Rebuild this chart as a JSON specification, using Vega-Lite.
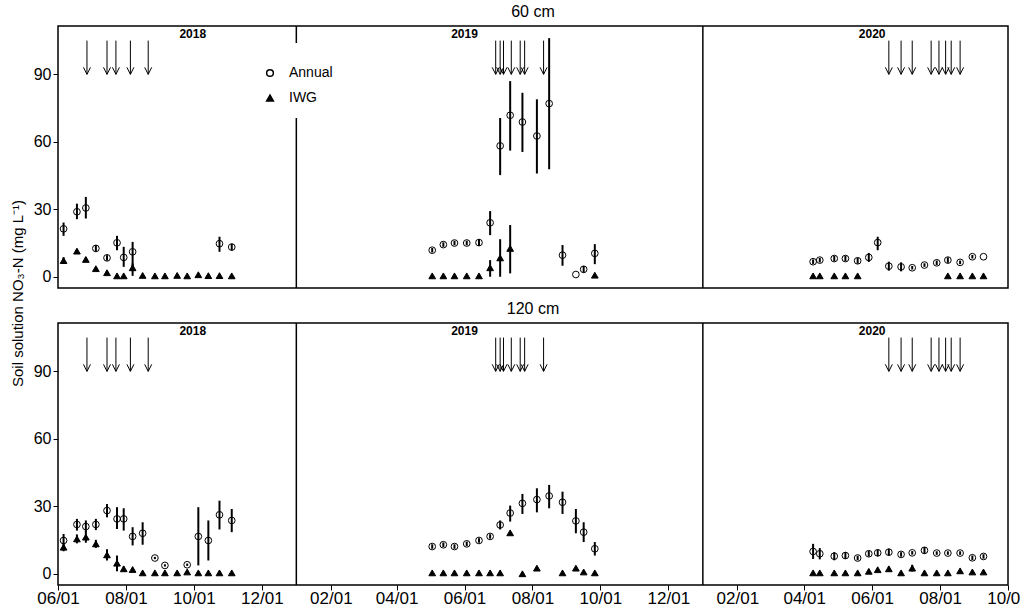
{
  "$schema": "https://vega.github.io/schema/vega-lite/v6.json",
  "padding": {"left": 9, "top": 3, "right": 0, "bottom": 0},
  "bounds": "flush",
  "spacing": 35,
  "datasets": {
    "obs": [
      {"depth": "60 cm", "trt": "Annual", "date": "2018-06-06", "mean": 21.3, "lo": 18.2, "hi": 24.1},
      {"depth": "60 cm", "trt": "Annual", "date": "2018-06-18", "mean": 28.9, "lo": 25.6, "hi": 32.5},
      {"depth": "60 cm", "trt": "Annual", "date": "2018-06-26", "mean": 30.6, "lo": 25.9, "hi": 35.5},
      {"depth": "60 cm", "trt": "Annual", "date": "2018-07-05", "mean": 12.6, "lo": 11.1, "hi": 14.1},
      {"depth": "60 cm", "trt": "Annual", "date": "2018-07-15", "mean": 8.4, "lo": 7.2, "hi": 9.6},
      {"depth": "60 cm", "trt": "Annual", "date": "2018-07-24", "mean": 15.1, "lo": 11.8, "hi": 18.2},
      {"depth": "60 cm", "trt": "Annual", "date": "2018-07-30", "mean": 8.6, "lo": 4.4, "hi": 13.3},
      {"depth": "60 cm", "trt": "Annual", "date": "2018-08-07", "mean": 11.1, "lo": 4.4, "hi": 15.5},
      {"depth": "60 cm", "trt": "Annual", "date": "2018-10-24", "mean": 14.7, "lo": 11.1, "hi": 17.8},
      {"depth": "60 cm", "trt": "Annual", "date": "2018-11-04", "mean": 13.2, "lo": 11.7, "hi": 14.7},
      {"depth": "60 cm", "trt": "Annual", "date": "2019-05-03", "mean": 11.8, "lo": 10.8, "hi": 12.8},
      {"depth": "60 cm", "trt": "Annual", "date": "2019-05-13", "mean": 14.3, "lo": 13.3, "hi": 15.3},
      {"depth": "60 cm", "trt": "Annual", "date": "2019-05-23", "mean": 15.0, "lo": 14.0, "hi": 16.0},
      {"depth": "60 cm", "trt": "Annual", "date": "2019-06-03", "mean": 15.0, "lo": 14.0, "hi": 16.0},
      {"depth": "60 cm", "trt": "Annual", "date": "2019-06-14", "mean": 15.2, "lo": 13.7, "hi": 16.7},
      {"depth": "60 cm", "trt": "Annual", "date": "2019-06-24", "mean": 24.0, "lo": 18.5, "hi": 29.2},
      {"depth": "60 cm", "trt": "Annual", "date": "2019-07-03", "mean": 58.2, "lo": 45.2, "hi": 70.6},
      {"depth": "60 cm", "trt": "Annual", "date": "2019-07-12", "mean": 71.8, "lo": 56.1, "hi": 87.0},
      {"depth": "60 cm", "trt": "Annual", "date": "2019-07-23", "mean": 68.8, "lo": 55.5, "hi": 81.8},
      {"depth": "60 cm", "trt": "Annual", "date": "2019-08-05", "mean": 62.6, "lo": 45.9, "hi": 78.9},
      {"depth": "60 cm", "trt": "Annual", "date": "2019-08-16", "mean": 77.0, "lo": 47.8, "hi": 106.1},
      {"depth": "60 cm", "trt": "Annual", "date": "2019-08-28", "mean": 9.6, "lo": 4.9, "hi": 14.1},
      {"depth": "60 cm", "trt": "Annual", "date": "2019-09-09", "mean": 1.0, "lo": 1.0, "hi": 1.0},
      {"depth": "60 cm", "trt": "Annual", "date": "2019-09-16", "mean": 3.3, "lo": 1.8, "hi": 4.8},
      {"depth": "60 cm", "trt": "Annual", "date": "2019-09-26", "mean": 10.4, "lo": 5.6, "hi": 14.5},
      {"depth": "60 cm", "trt": "Annual", "date": "2020-04-09", "mean": 6.7, "lo": 5.7, "hi": 7.7},
      {"depth": "60 cm", "trt": "Annual", "date": "2020-04-15", "mean": 7.4, "lo": 6.4, "hi": 8.4},
      {"depth": "60 cm", "trt": "Annual", "date": "2020-04-28", "mean": 8.1, "lo": 6.9, "hi": 9.3},
      {"depth": "60 cm", "trt": "Annual", "date": "2020-05-08", "mean": 8.1, "lo": 6.9, "hi": 9.3},
      {"depth": "60 cm", "trt": "Annual", "date": "2020-05-19", "mean": 7.1, "lo": 5.8, "hi": 8.4},
      {"depth": "60 cm", "trt": "Annual", "date": "2020-05-29", "mean": 8.6, "lo": 6.6, "hi": 10.6},
      {"depth": "60 cm", "trt": "Annual", "date": "2020-06-06", "mean": 15.2, "lo": 11.8, "hi": 17.8},
      {"depth": "60 cm", "trt": "Annual", "date": "2020-06-16", "mean": 4.7, "lo": 2.7, "hi": 6.7},
      {"depth": "60 cm", "trt": "Annual", "date": "2020-06-27", "mean": 4.4, "lo": 2.4, "hi": 6.4},
      {"depth": "60 cm", "trt": "Annual", "date": "2020-07-07", "mean": 4.0, "lo": 3.2, "hi": 4.8},
      {"depth": "60 cm", "trt": "Annual", "date": "2020-07-18", "mean": 5.2, "lo": 4.4, "hi": 6.0},
      {"depth": "60 cm", "trt": "Annual", "date": "2020-07-29", "mean": 6.2, "lo": 5.2, "hi": 7.2},
      {"depth": "60 cm", "trt": "Annual", "date": "2020-08-08", "mean": 7.4, "lo": 6.2, "hi": 8.6},
      {"depth": "60 cm", "trt": "Annual", "date": "2020-08-19", "mean": 6.4, "lo": 5.6, "hi": 7.2},
      {"depth": "60 cm", "trt": "Annual", "date": "2020-08-30", "mean": 8.9, "lo": 8.1, "hi": 9.7},
      {"depth": "60 cm", "trt": "Annual", "date": "2020-09-09", "mean": 8.9, "lo": 8.9, "hi": 8.9},
      {"depth": "60 cm", "trt": "IWG", "date": "2018-06-06", "mean": 7.2, "lo": 5.7, "hi": 8.7},
      {"depth": "60 cm", "trt": "IWG", "date": "2018-06-18", "mean": 11.4, "lo": 10.4, "hi": 12.4},
      {"depth": "60 cm", "trt": "IWG", "date": "2018-06-26", "mean": 7.7, "lo": 6.7, "hi": 8.7},
      {"depth": "60 cm", "trt": "IWG", "date": "2018-07-05", "mean": 3.6, "lo": 3.0, "hi": 4.2},
      {"depth": "60 cm", "trt": "IWG", "date": "2018-07-15", "mean": 1.8, "lo": 1.3, "hi": 2.3},
      {"depth": "60 cm", "trt": "IWG", "date": "2018-07-24", "mean": 0.4, "lo": 0.4, "hi": 0.4},
      {"depth": "60 cm", "trt": "IWG", "date": "2018-07-30", "mean": 0.4, "lo": 0.4, "hi": 0.4},
      {"depth": "60 cm", "trt": "IWG", "date": "2018-08-07", "mean": 4.0, "lo": 0.4, "hi": 5.9},
      {"depth": "60 cm", "trt": "IWG", "date": "2018-08-16", "mean": 0.6, "lo": 0.6, "hi": 0.6},
      {"depth": "60 cm", "trt": "IWG", "date": "2018-08-27", "mean": 0.4, "lo": 0.4, "hi": 0.4},
      {"depth": "60 cm", "trt": "IWG", "date": "2018-09-05", "mean": 0.4, "lo": 0.4, "hi": 0.4},
      {"depth": "60 cm", "trt": "IWG", "date": "2018-09-16", "mean": 0.6, "lo": 0.6, "hi": 0.6},
      {"depth": "60 cm", "trt": "IWG", "date": "2018-09-25", "mean": 0.4, "lo": 0.4, "hi": 0.4},
      {"depth": "60 cm", "trt": "IWG", "date": "2018-10-05", "mean": 0.9, "lo": 0.9, "hi": 0.9},
      {"depth": "60 cm", "trt": "IWG", "date": "2018-10-14", "mean": 0.5, "lo": 0.5, "hi": 0.5},
      {"depth": "60 cm", "trt": "IWG", "date": "2018-10-24", "mean": 0.5, "lo": 0.5, "hi": 0.5},
      {"depth": "60 cm", "trt": "IWG", "date": "2018-11-04", "mean": 0.4, "lo": 0.4, "hi": 0.4},
      {"depth": "60 cm", "trt": "IWG", "date": "2019-05-03", "mean": 0.4, "lo": 0.4, "hi": 0.4},
      {"depth": "60 cm", "trt": "IWG", "date": "2019-05-13", "mean": 0.4, "lo": 0.4, "hi": 0.4},
      {"depth": "60 cm", "trt": "IWG", "date": "2019-05-23", "mean": 0.4, "lo": 0.4, "hi": 0.4},
      {"depth": "60 cm", "trt": "IWG", "date": "2019-06-03", "mean": 0.4, "lo": 0.4, "hi": 0.4},
      {"depth": "60 cm", "trt": "IWG", "date": "2019-06-14", "mean": 0.4, "lo": 0.4, "hi": 0.4},
      {"depth": "60 cm", "trt": "IWG", "date": "2019-06-24", "mean": 4.0, "lo": 0.0, "hi": 7.4},
      {"depth": "60 cm", "trt": "IWG", "date": "2019-07-03", "mean": 8.4, "lo": 0.0, "hi": 16.7},
      {"depth": "60 cm", "trt": "IWG", "date": "2019-07-12", "mean": 12.6, "lo": 1.5, "hi": 23.0},
      {"depth": "60 cm", "trt": "IWG", "date": "2019-09-26", "mean": 0.7, "lo": 0.7, "hi": 0.7},
      {"depth": "60 cm", "trt": "IWG", "date": "2020-04-09", "mean": 0.4, "lo": 0.4, "hi": 0.4},
      {"depth": "60 cm", "trt": "IWG", "date": "2020-04-15", "mean": 0.4, "lo": 0.4, "hi": 0.4},
      {"depth": "60 cm", "trt": "IWG", "date": "2020-04-28", "mean": 0.4, "lo": 0.4, "hi": 0.4},
      {"depth": "60 cm", "trt": "IWG", "date": "2020-05-08", "mean": 0.4, "lo": 0.4, "hi": 0.4},
      {"depth": "60 cm", "trt": "IWG", "date": "2020-05-19", "mean": 0.4, "lo": 0.4, "hi": 0.4},
      {"depth": "60 cm", "trt": "IWG", "date": "2020-08-08", "mean": 0.4, "lo": 0.4, "hi": 0.4},
      {"depth": "60 cm", "trt": "IWG", "date": "2020-08-19", "mean": 0.4, "lo": 0.4, "hi": 0.4},
      {"depth": "60 cm", "trt": "IWG", "date": "2020-08-30", "mean": 0.4, "lo": 0.4, "hi": 0.4},
      {"depth": "60 cm", "trt": "IWG", "date": "2020-09-09", "mean": 0.4, "lo": 0.4, "hi": 0.4},
      {"depth": "120 cm", "trt": "Annual", "date": "2018-06-06", "mean": 14.8, "lo": 11.4, "hi": 17.7},
      {"depth": "120 cm", "trt": "Annual", "date": "2018-06-18", "mean": 21.9, "lo": 19.2, "hi": 24.4},
      {"depth": "120 cm", "trt": "Annual", "date": "2018-06-26", "mean": 21.0, "lo": 18.5, "hi": 23.7},
      {"depth": "120 cm", "trt": "Annual", "date": "2018-07-05", "mean": 21.9, "lo": 19.4, "hi": 24.4},
      {"depth": "120 cm", "trt": "Annual", "date": "2018-07-15", "mean": 28.1, "lo": 25.1, "hi": 31.0},
      {"depth": "120 cm", "trt": "Annual", "date": "2018-07-24", "mean": 24.4, "lo": 19.9, "hi": 29.6},
      {"depth": "120 cm", "trt": "Annual", "date": "2018-07-30", "mean": 24.4, "lo": 19.2, "hi": 29.1},
      {"depth": "120 cm", "trt": "Annual", "date": "2018-08-07", "mean": 16.6, "lo": 12.6, "hi": 20.7},
      {"depth": "120 cm", "trt": "Annual", "date": "2018-08-16", "mean": 18.0, "lo": 12.9, "hi": 22.9},
      {"depth": "120 cm", "trt": "Annual", "date": "2018-08-27", "mean": 7.0, "lo": 6.5, "hi": 7.5},
      {"depth": "120 cm", "trt": "Annual", "date": "2018-09-05", "mean": 3.7, "lo": 3.2, "hi": 4.2},
      {"depth": "120 cm", "trt": "Annual", "date": "2018-09-25", "mean": 4.0, "lo": 3.5, "hi": 4.5},
      {"depth": "120 cm", "trt": "Annual", "date": "2018-10-05", "mean": 16.6, "lo": 3.7, "hi": 29.6},
      {"depth": "120 cm", "trt": "Annual", "date": "2018-10-14", "mean": 14.8, "lo": 5.9, "hi": 23.7},
      {"depth": "120 cm", "trt": "Annual", "date": "2018-10-24", "mean": 26.2, "lo": 19.7, "hi": 32.5},
      {"depth": "120 cm", "trt": "Annual", "date": "2018-11-04", "mean": 23.7, "lo": 18.5, "hi": 28.8},
      {"depth": "120 cm", "trt": "Annual", "date": "2019-05-03", "mean": 12.1, "lo": 11.1, "hi": 13.1},
      {"depth": "120 cm", "trt": "Annual", "date": "2019-05-13", "mean": 12.9, "lo": 11.9, "hi": 13.9},
      {"depth": "120 cm", "trt": "Annual", "date": "2019-05-23", "mean": 12.1, "lo": 11.1, "hi": 13.1},
      {"depth": "120 cm", "trt": "Annual", "date": "2019-06-03", "mean": 13.3, "lo": 12.3, "hi": 14.3},
      {"depth": "120 cm", "trt": "Annual", "date": "2019-06-14", "mean": 14.8, "lo": 13.8, "hi": 15.8},
      {"depth": "120 cm", "trt": "Annual", "date": "2019-06-24", "mean": 16.6, "lo": 15.6, "hi": 17.6},
      {"depth": "120 cm", "trt": "Annual", "date": "2019-07-03", "mean": 21.7, "lo": 19.7, "hi": 23.7},
      {"depth": "120 cm", "trt": "Annual", "date": "2019-07-12", "mean": 27.0, "lo": 23.2, "hi": 30.3},
      {"depth": "120 cm", "trt": "Annual", "date": "2019-07-23", "mean": 31.3, "lo": 26.6, "hi": 35.5},
      {"depth": "120 cm", "trt": "Annual", "date": "2019-08-05", "mean": 33.0, "lo": 27.3, "hi": 38.0},
      {"depth": "120 cm", "trt": "Annual", "date": "2019-08-16", "mean": 34.6, "lo": 29.1, "hi": 39.5},
      {"depth": "120 cm", "trt": "Annual", "date": "2019-08-28", "mean": 31.8, "lo": 26.6, "hi": 36.5},
      {"depth": "120 cm", "trt": "Annual", "date": "2019-09-09", "mean": 23.5, "lo": 18.0, "hi": 28.8},
      {"depth": "120 cm", "trt": "Annual", "date": "2019-09-16", "mean": 18.5, "lo": 14.1, "hi": 22.9},
      {"depth": "120 cm", "trt": "Annual", "date": "2019-09-26", "mean": 11.1, "lo": 8.1, "hi": 14.1},
      {"depth": "120 cm", "trt": "Annual", "date": "2020-04-09", "mean": 9.9, "lo": 6.6, "hi": 13.3},
      {"depth": "120 cm", "trt": "Annual", "date": "2020-04-15", "mean": 8.9, "lo": 6.4, "hi": 11.4},
      {"depth": "120 cm", "trt": "Annual", "date": "2020-04-28", "mean": 7.8, "lo": 6.0, "hi": 9.6},
      {"depth": "120 cm", "trt": "Annual", "date": "2020-05-08", "mean": 8.1, "lo": 6.6, "hi": 9.6},
      {"depth": "120 cm", "trt": "Annual", "date": "2020-05-19", "mean": 7.0, "lo": 6.0, "hi": 8.0},
      {"depth": "120 cm", "trt": "Annual", "date": "2020-05-29", "mean": 8.9, "lo": 7.7, "hi": 10.1},
      {"depth": "120 cm", "trt": "Annual", "date": "2020-06-06", "mean": 9.3, "lo": 7.8, "hi": 10.8},
      {"depth": "120 cm", "trt": "Annual", "date": "2020-06-16", "mean": 9.6, "lo": 8.1, "hi": 11.1},
      {"depth": "120 cm", "trt": "Annual", "date": "2020-06-27", "mean": 8.6, "lo": 7.6, "hi": 9.6},
      {"depth": "120 cm", "trt": "Annual", "date": "2020-07-07", "mean": 9.3, "lo": 8.5, "hi": 10.1},
      {"depth": "120 cm", "trt": "Annual", "date": "2020-07-18", "mean": 10.4, "lo": 8.9, "hi": 11.9},
      {"depth": "120 cm", "trt": "Annual", "date": "2020-07-29", "mean": 9.2, "lo": 8.4, "hi": 10.0},
      {"depth": "120 cm", "trt": "Annual", "date": "2020-08-08", "mean": 9.2, "lo": 8.4, "hi": 10.0},
      {"depth": "120 cm", "trt": "Annual", "date": "2020-08-19", "mean": 9.2, "lo": 8.4, "hi": 10.0},
      {"depth": "120 cm", "trt": "Annual", "date": "2020-08-30", "mean": 7.1, "lo": 6.1, "hi": 8.1},
      {"depth": "120 cm", "trt": "Annual", "date": "2020-09-09", "mean": 7.7, "lo": 6.7, "hi": 8.7},
      {"depth": "120 cm", "trt": "IWG", "date": "2018-06-06", "mean": 11.8, "lo": 10.0, "hi": 13.6},
      {"depth": "120 cm", "trt": "IWG", "date": "2018-06-18", "mean": 15.5, "lo": 13.5, "hi": 17.5},
      {"depth": "120 cm", "trt": "IWG", "date": "2018-06-26", "mean": 16.3, "lo": 13.8, "hi": 18.8},
      {"depth": "120 cm", "trt": "IWG", "date": "2018-07-05", "mean": 13.3, "lo": 11.5, "hi": 15.1},
      {"depth": "120 cm", "trt": "IWG", "date": "2018-07-15", "mean": 8.4, "lo": 5.9, "hi": 10.9},
      {"depth": "120 cm", "trt": "IWG", "date": "2018-07-24", "mean": 4.7, "lo": 1.1, "hi": 8.1},
      {"depth": "120 cm", "trt": "IWG", "date": "2018-07-30", "mean": 2.2, "lo": 1.2, "hi": 3.2},
      {"depth": "120 cm", "trt": "IWG", "date": "2018-08-07", "mean": 1.9, "lo": 1.4, "hi": 2.4},
      {"depth": "120 cm", "trt": "IWG", "date": "2018-08-16", "mean": 0.4, "lo": 0.4, "hi": 0.4},
      {"depth": "120 cm", "trt": "IWG", "date": "2018-08-27", "mean": 0.4, "lo": 0.4, "hi": 0.4},
      {"depth": "120 cm", "trt": "IWG", "date": "2018-09-05", "mean": 0.4, "lo": 0.4, "hi": 0.4},
      {"depth": "120 cm", "trt": "IWG", "date": "2018-09-16", "mean": 0.4, "lo": 0.4, "hi": 0.4},
      {"depth": "120 cm", "trt": "IWG", "date": "2018-09-25", "mean": 0.8, "lo": 0.8, "hi": 0.8},
      {"depth": "120 cm", "trt": "IWG", "date": "2018-10-05", "mean": 0.4, "lo": 0.4, "hi": 0.4},
      {"depth": "120 cm", "trt": "IWG", "date": "2018-10-14", "mean": 0.4, "lo": 0.4, "hi": 0.4},
      {"depth": "120 cm", "trt": "IWG", "date": "2018-10-24", "mean": 0.4, "lo": 0.4, "hi": 0.4},
      {"depth": "120 cm", "trt": "IWG", "date": "2018-11-04", "mean": 0.4, "lo": 0.4, "hi": 0.4},
      {"depth": "120 cm", "trt": "IWG", "date": "2019-05-03", "mean": 0.4, "lo": 0.4, "hi": 0.4},
      {"depth": "120 cm", "trt": "IWG", "date": "2019-05-13", "mean": 0.4, "lo": 0.4, "hi": 0.4},
      {"depth": "120 cm", "trt": "IWG", "date": "2019-05-23", "mean": 0.4, "lo": 0.4, "hi": 0.4},
      {"depth": "120 cm", "trt": "IWG", "date": "2019-06-03", "mean": 0.4, "lo": 0.4, "hi": 0.4},
      {"depth": "120 cm", "trt": "IWG", "date": "2019-06-14", "mean": 0.4, "lo": 0.4, "hi": 0.4},
      {"depth": "120 cm", "trt": "IWG", "date": "2019-06-24", "mean": 0.4, "lo": 0.4, "hi": 0.4},
      {"depth": "120 cm", "trt": "IWG", "date": "2019-07-03", "mean": 0.4, "lo": 0.4, "hi": 0.4},
      {"depth": "120 cm", "trt": "IWG", "date": "2019-07-12", "mean": 18.2, "lo": 18.2, "hi": 18.2},
      {"depth": "120 cm", "trt": "IWG", "date": "2019-07-23", "mean": 0.0, "lo": 0.0, "hi": 0.0},
      {"depth": "120 cm", "trt": "IWG", "date": "2019-08-05", "mean": 2.5, "lo": 2.5, "hi": 2.5},
      {"depth": "120 cm", "trt": "IWG", "date": "2019-08-28", "mean": 0.4, "lo": 0.4, "hi": 0.4},
      {"depth": "120 cm", "trt": "IWG", "date": "2019-09-09", "mean": 2.5, "lo": 2.5, "hi": 2.5},
      {"depth": "120 cm", "trt": "IWG", "date": "2019-09-16", "mean": 0.8, "lo": 0.8, "hi": 0.8},
      {"depth": "120 cm", "trt": "IWG", "date": "2019-09-26", "mean": 0.4, "lo": 0.4, "hi": 0.4},
      {"depth": "120 cm", "trt": "IWG", "date": "2020-04-09", "mean": 0.4, "lo": 0.4, "hi": 0.4},
      {"depth": "120 cm", "trt": "IWG", "date": "2020-04-15", "mean": 0.4, "lo": 0.4, "hi": 0.4},
      {"depth": "120 cm", "trt": "IWG", "date": "2020-04-28", "mean": 0.4, "lo": 0.4, "hi": 0.4},
      {"depth": "120 cm", "trt": "IWG", "date": "2020-05-08", "mean": 0.4, "lo": 0.4, "hi": 0.4},
      {"depth": "120 cm", "trt": "IWG", "date": "2020-05-19", "mean": 0.4, "lo": 0.4, "hi": 0.4},
      {"depth": "120 cm", "trt": "IWG", "date": "2020-05-29", "mean": 1.1, "lo": 1.1, "hi": 1.1},
      {"depth": "120 cm", "trt": "IWG", "date": "2020-06-06", "mean": 1.8, "lo": 1.8, "hi": 1.8},
      {"depth": "120 cm", "trt": "IWG", "date": "2020-06-16", "mean": 2.2, "lo": 1.2, "hi": 3.2},
      {"depth": "120 cm", "trt": "IWG", "date": "2020-06-27", "mean": 0.4, "lo": 0.4, "hi": 0.4},
      {"depth": "120 cm", "trt": "IWG", "date": "2020-07-07", "mean": 2.5, "lo": 1.0, "hi": 4.0},
      {"depth": "120 cm", "trt": "IWG", "date": "2020-07-18", "mean": 0.4, "lo": 0.4, "hi": 0.4},
      {"depth": "120 cm", "trt": "IWG", "date": "2020-07-29", "mean": 0.4, "lo": 0.4, "hi": 0.4},
      {"depth": "120 cm", "trt": "IWG", "date": "2020-08-08", "mean": 0.4, "lo": 0.4, "hi": 0.4},
      {"depth": "120 cm", "trt": "IWG", "date": "2020-08-19", "mean": 1.3, "lo": 1.3, "hi": 1.3},
      {"depth": "120 cm", "trt": "IWG", "date": "2020-08-30", "mean": 0.8, "lo": 0.8, "hi": 0.8},
      {"depth": "120 cm", "trt": "IWG", "date": "2020-09-09", "mean": 0.8, "lo": 0.8, "hi": 0.8}
    ],
    "irrigation": [
      {"date": "2018-06-27"}, {"date": "2018-07-15"}, {"date": "2018-07-23"}, {"date": "2018-08-05"}, {"date": "2018-08-21"},
      {"date": "2019-06-29"}, {"date": "2019-07-03"}, {"date": "2019-07-06"}, {"date": "2019-07-13"}, {"date": "2019-07-21"}, {"date": "2019-07-25"}, {"date": "2019-08-11"},
      {"date": "2020-06-16"}, {"date": "2020-06-27"}, {"date": "2020-07-07"}, {"date": "2020-07-24"}, {"date": "2020-07-31"}, {"date": "2020-08-06"}, {"date": "2020-08-11"}, {"date": "2020-08-19"}
    ],
    "years": [
      {"date": "2018-09-30", "label": "2018"},
      {"date": "2019-06-01", "label": "2019"},
      {"date": "2020-06-01", "label": "2020"}
    ],
    "breaks": [
      {"date": "2019-01-01"},
      {"date": "2020-01-01"}
    ]
  },
  "vconcat": [
    {
      "title": "60 cm",
      "width": 950,
      "height": 262,
      "encoding": {
        "x": {"field": "date", "type": "temporal", "title": null,
              "scale": {"domain": [{"year": 2018, "month": 6, "date": 1}, {"year": 2020, "month": 10, "date": 1}], "nice": false},
              "axis": null}
      },
      "layer": [
        {"data": {"name": "breaks"},
         "mark": {"type": "rule", "color": "black", "strokeWidth": 1.5},
         "encoding": {
           "y": {"datum": -5, "type": "quantitative", "title": "Soil solution NO₃-N  (mg L⁻¹)", "scale": {"domain": [-5, 111.5], "nice": false, "zero": false}, "axis": {"values": [0, 30, 60, 90]}},
           "y2": {"datum": 111.5}}},
        {"data": {"name": "obs"},
         "transform": [{"filter": "datum.depth === '60 cm'"}],
         "mark": {"type": "rule", "color": "black", "strokeWidth": 2},
         "encoding": {
           "y": {"field": "lo", "type": "quantitative", "title": "Soil solution NO₃-N  (mg L⁻¹)", "scale": {"domain": [-5, 111.5], "nice": false, "zero": false}, "axis": {"values": [0, 30, 60, 90]}},
           "y2": {"field": "hi"}}},
        {"data": {"name": "obs"},
         "transform": [{"filter": "datum.depth === '60 cm'"}],
         "mark": {"type": "point", "filled": true, "stroke": "black", "strokeWidth": 1, "size": 45, "opacity": 1},
         "encoding": {
           "y": {"field": "mean", "type": "quantitative", "title": "Soil solution NO₃-N  (mg L⁻¹)", "scale": {"domain": [-5, 111.5], "nice": false, "zero": false}, "axis": {"values": [0, 30, 60, 90]}},
           "shape": {"field": "trt", "type": "nominal", "scale": {"domain": ["Annual", "IWG"], "range": ["circle", "triangle-up"]},
                     "legend": {"orient": "none", "legendX": 192, "legendY": 17, "title": " ", "titleFontSize": 10, "titlePadding": 0, "fillColor": "white", "padding": 13, "labelFontSize": 14, "labelColor": "black", "symbolSize": 45, "rowPadding": 11, "labelOffset": 12,
                                "encode": {"symbols": {"update": {"stroke": {"value": "black"}, "strokeWidth": {"value": 1}}}}}},
           "fill": {"field": "trt", "type": "nominal", "scale": {"domain": ["Annual", "IWG"], "range": ["transparent", "black"]},
                    "legend": {"orient": "none", "legendX": 192, "legendY": 17, "title": " ", "titleFontSize": 10, "titlePadding": 0, "fillColor": "white", "padding": 13, "labelFontSize": 14, "labelColor": "black", "symbolSize": 45, "rowPadding": 11, "labelOffset": 12,
                               "encode": {"symbols": {"update": {"stroke": {"value": "black"}, "strokeWidth": {"value": 1}}}}}}}},
        {"data": {"name": "irrigation"},
         "mark": {"type": "rule", "color": "black", "strokeWidth": 1},
         "encoding": {
           "y": {"datum": 105, "type": "quantitative", "title": "Soil solution NO₃-N  (mg L⁻¹)", "scale": {"domain": [-5, 111.5], "nice": false, "zero": false}, "axis": {"values": [0, 30, 60, 90]}},
           "y2": {"datum": 90}}},
        {"data": {"name": "irrigation"},
         "mark": {"type": "point", "shape": "M-1,-2L0,0L1,-2", "filled": false, "stroke": "black", "strokeWidth": 1, "size": 49, "opacity": 1},
         "encoding": {
           "y": {"datum": 90, "type": "quantitative", "title": "Soil solution NO₃-N  (mg L⁻¹)", "scale": {"domain": [-5, 111.5], "nice": false, "zero": false}, "axis": {"values": [0, 30, 60, 90]}}}},
        {"data": {"name": "years"},
         "mark": {"type": "text", "fontSize": 12, "fontWeight": "bold", "color": "black", "align": "center", "baseline": "middle"},
         "encoding": {
           "y": {"datum": 108, "type": "quantitative", "title": "Soil solution NO₃-N  (mg L⁻¹)", "scale": {"domain": [-5, 111.5], "nice": false, "zero": false}, "axis": {"values": [0, 30, 60, 90]}},
           "text": {"field": "label"}}}
      ]
    },
    {
      "title": "120 cm",
      "width": 950,
      "height": 262,
      "encoding": {
        "x": {"field": "date", "type": "temporal", "title": null,
              "scale": {"domain": [{"year": 2018, "month": 6, "date": 1}, {"year": 2020, "month": 10, "date": 1}], "nice": false},
              "axis": {"format": "%m/%d", "labelFontSize": 17, "labelPadding": 0, "labelFlush": false, "labelOverlap": false,
                       "values": [
                         {"year": 2018, "month": 6, "date": 1}, {"year": 2018, "month": 8, "date": 1}, {"year": 2018, "month": 10, "date": 1}, {"year": 2018, "month": 12, "date": 1},
                         {"year": 2019, "month": 2, "date": 1}, {"year": 2019, "month": 4, "date": 1}, {"year": 2019, "month": 6, "date": 1}, {"year": 2019, "month": 8, "date": 1}, {"year": 2019, "month": 10, "date": 1}, {"year": 2019, "month": 12, "date": 1},
                         {"year": 2020, "month": 2, "date": 1}, {"year": 2020, "month": 4, "date": 1}, {"year": 2020, "month": 6, "date": 1}, {"year": 2020, "month": 8, "date": 1}, {"year": 2020, "month": 10, "date": 1}]}}
      },
      "layer": [
        {"data": {"name": "breaks"},
         "mark": {"type": "rule", "color": "black", "strokeWidth": 1.5},
         "encoding": {
           "y": {"datum": -5, "type": "quantitative", "title": null, "scale": {"domain": [-5, 111.5], "nice": false, "zero": false}, "axis": {"values": [0, 30, 60, 90]}},
           "y2": {"datum": 111.5}}},
        {"data": {"name": "obs"},
         "transform": [{"filter": "datum.depth === '120 cm'"}],
         "mark": {"type": "rule", "color": "black", "strokeWidth": 2},
         "encoding": {
           "y": {"field": "lo", "type": "quantitative", "title": null, "scale": {"domain": [-5, 111.5], "nice": false, "zero": false}, "axis": {"values": [0, 30, 60, 90]}},
           "y2": {"field": "hi"}}},
        {"data": {"name": "obs"},
         "transform": [{"filter": "datum.depth === '120 cm'"}],
         "mark": {"type": "point", "filled": true, "stroke": "black", "strokeWidth": 1, "size": 45, "opacity": 1},
         "encoding": {
           "y": {"field": "mean", "type": "quantitative", "title": null, "scale": {"domain": [-5, 111.5], "nice": false, "zero": false}, "axis": {"values": [0, 30, 60, 90]}},
           "shape": {"field": "trt", "type": "nominal", "scale": {"domain": ["Annual", "IWG"], "range": ["circle", "triangle-up"]}, "legend": null},
           "fill": {"field": "trt", "type": "nominal", "scale": {"domain": ["Annual", "IWG"], "range": ["transparent", "black"]}, "legend": null}}},
        {"data": {"name": "irrigation"},
         "mark": {"type": "rule", "color": "black", "strokeWidth": 1},
         "encoding": {
           "y": {"datum": 105, "type": "quantitative", "title": null, "scale": {"domain": [-5, 111.5], "nice": false, "zero": false}, "axis": {"values": [0, 30, 60, 90]}},
           "y2": {"datum": 90}}},
        {"data": {"name": "irrigation"},
         "mark": {"type": "point", "shape": "M-1,-2L0,0L1,-2", "filled": false, "stroke": "black", "strokeWidth": 1, "size": 49, "opacity": 1},
         "encoding": {
           "y": {"datum": 90, "type": "quantitative", "title": null, "scale": {"domain": [-5, 111.5], "nice": false, "zero": false}, "axis": {"values": [0, 30, 60, 90]}}}},
        {"data": {"name": "years"},
         "mark": {"type": "text", "fontSize": 12, "fontWeight": "bold", "color": "black", "align": "center", "baseline": "middle"},
         "encoding": {
           "y": {"datum": 108, "type": "quantitative", "title": null, "scale": {"domain": [-5, 111.5], "nice": false, "zero": false}, "axis": {"values": [0, 30, 60, 90]}},
           "text": {"field": "label"}}}
      ]
    }
  ],
  "resolve": {
    "scale": {"shape": "independent", "fill": "independent"},
    "legend": {"shape": "independent", "fill": "independent"}
  },
  "config": {
    "font": "Liberation Sans",
    "view": {"stroke": "black", "strokeWidth": 1.5},
    "axis": {"grid": false, "domain": false, "tickColor": "black", "tickSize": 5, "tickWidth": 1,
             "labelColor": "black", "labelFontSize": 16, "labelPadding": 2,
             "titleColor": "black", "titleFontSize": 15, "titleFontWeight": "normal"},
    "axisY": {"titleY": 267, "titlePadding": 8},
    "title": {"fontSize": 16, "fontWeight": "normal", "color": "black", "offset": 5}
  }
}
